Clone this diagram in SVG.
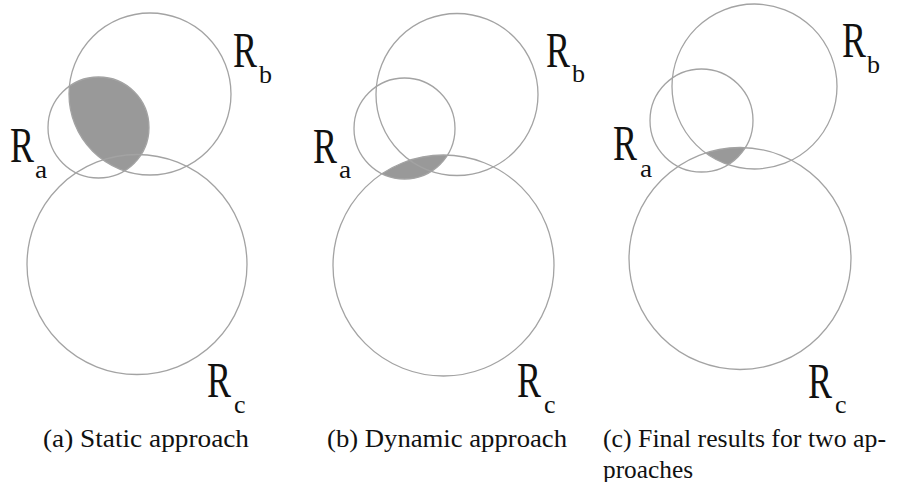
<svg xmlns="http://www.w3.org/2000/svg" width="898" height="482" viewBox="0 0 898 482">
<style>
text{font-family:"Liberation Serif","DejaVu Serif",serif;fill:#111}
.c{fill:none;stroke:#a3a3a3;stroke-width:1.3}
.s{fill:#999999;stroke:none}
.L{font-size:50px}
.sub{font-size:26px}
.cap{font-size:24.5px}
</style>
<defs>
<clipPath id="a_rb"><circle cx="150" cy="94" r="81"/></clipPath>
<clipPath id="b_rc"><circle cx="443.5" cy="265.5" r="110.5"/></clipPath>
<clipPath id="c_rb"><circle cx="754.5" cy="86.5" r="82.5"/></clipPath>
<clipPath id="c_rc"><circle cx="740" cy="258.5" r="111"/></clipPath>
</defs>
<rect width="898" height="482" fill="#fff"/>

<g id="panel-a">
  <g id="a-shade"><g clip-path="url(#a_rb)"><circle class="s" cx="98.5" cy="127.5" r="50.5"/></g></g>
  <g id="a-Ra"><circle class="c" cx="98.5" cy="127.5" r="50.5"/>
    <text class="L" transform="translate(10,162) scale(0.72,1)">R</text><text class="sub" transform="translate(35,178) scale(1.05,1)">a</text></g>
  <g id="a-Rb"><circle class="c" cx="150" cy="94" r="81"/>
    <text class="L" transform="translate(233,67) scale(0.72,1)">R</text><text class="sub" transform="translate(259,83)">b</text></g>
  <g id="a-Rc"><circle class="c" cx="137" cy="264.5" r="110"/>
    <text class="L" transform="translate(207,397) scale(0.72,1)">R</text><text class="sub" transform="translate(234,413)">c</text></g>
  <text class="cap" x="43" y="447" textLength="206" lengthAdjust="spacingAndGlyphs">(a) Static approach</text>
</g>

<g id="panel-b">
  <g id="b-shade"><g clip-path="url(#b_rc)"><circle class="s" cx="404.5" cy="128.5" r="50.5"/></g></g>
  <g id="b-Ra"><circle class="c" cx="404.5" cy="128.5" r="50.5"/>
    <text class="L" transform="translate(313,163) scale(0.72,1)">R</text><text class="sub" transform="translate(339,178) scale(1.05,1)">a</text></g>
  <g id="b-Rb"><circle class="c" cx="457" cy="94.5" r="81"/>
    <text class="L" transform="translate(546,67) scale(0.72,1)">R</text><text class="sub" transform="translate(572,82)">b</text></g>
  <g id="b-Rc"><circle class="c" cx="443.5" cy="265.5" r="110.5"/>
    <text class="L" transform="translate(517,397) scale(0.72,1)">R</text><text class="sub" transform="translate(544,413)">c</text></g>
  <text class="cap" x="327" y="447" textLength="240" lengthAdjust="spacingAndGlyphs">(b) Dynamic approach</text>
</g>

<g id="panel-c">
  <g id="c-shade"><g clip-path="url(#c_rb)"><g clip-path="url(#c_rc)"><circle class="s" cx="701.5" cy="120.5" r="51.5"/></g></g></g>
  <g id="c-Ra"><circle class="c" cx="701.5" cy="120.5" r="51.5"/>
    <text class="L" transform="translate(613,160) scale(0.72,1)">R</text><text class="sub" transform="translate(640,177) scale(1.05,1)">a</text></g>
  <g id="c-Rb"><circle class="c" cx="754.5" cy="86.5" r="82.5"/>
    <text class="L" transform="translate(842,57) scale(0.72,1)">R</text><text class="sub" transform="translate(867,73)">b</text></g>
  <g id="c-Rc"><circle class="c" cx="740" cy="258.5" r="111"/>
    <text class="L" transform="translate(808,398) scale(0.72,1)">R</text><text class="sub" transform="translate(835,413)">c</text></g>
  <text class="cap" x="603" y="447" textLength="283" lengthAdjust="spacingAndGlyphs">(c) Final results for two ap-</text>
  <text class="cap" x="603" y="478" textLength="90" lengthAdjust="spacingAndGlyphs">proaches</text>
</g>
</svg>
